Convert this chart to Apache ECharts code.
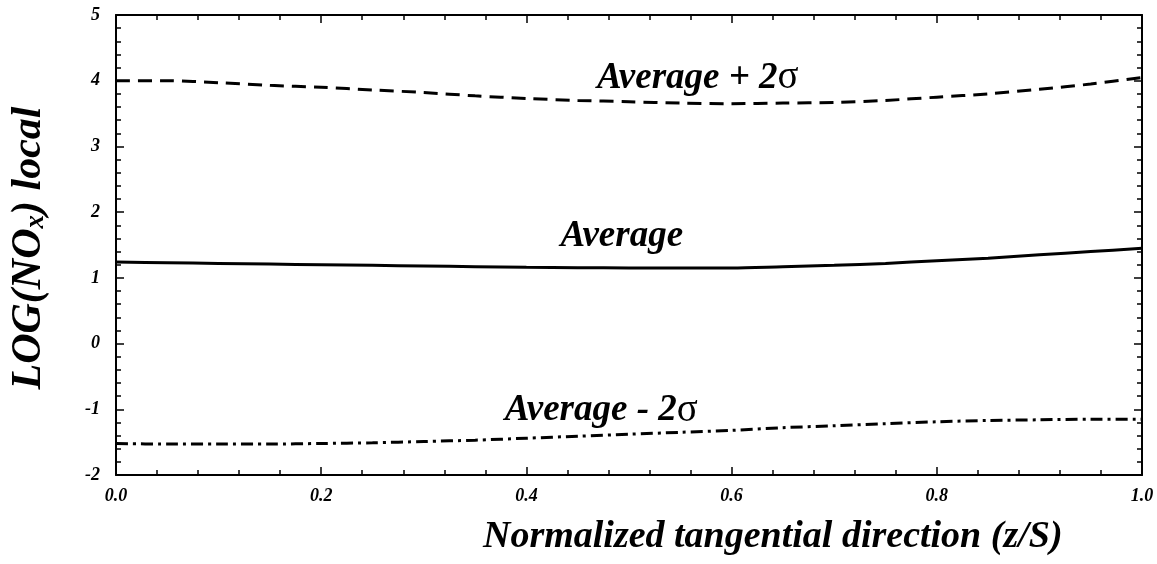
<!DOCTYPE html>
<html>
<head>
<meta charset="utf-8">
<script src="https://cdn.jsdelivr.net/npm/echarts@6/dist/echarts.min.js"></script>
<style>html,body{margin:0;padding:0;background:#fff;}#c{width:1157px;height:564px;}</style>
</head>
<body>
<div id="c"></div>
<script>
// Data
var xs = [0, 0.05, 0.1, 0.15, 0.2, 0.25, 0.3, 0.35, 0.4, 0.45, 0.5, 0.55, 0.6, 0.65, 0.7, 0.75, 0.8, 0.85, 0.9, 0.95, 1.0];
var avgPlus = [4.00, 4.00, 3.97, 3.93, 3.90, 3.86, 3.82, 3.77, 3.73, 3.70, 3.68, 3.66, 3.65, 3.66, 3.67, 3.70, 3.75, 3.80, 3.87, 3.95, 4.05];
var avg = [1.24, 1.23, 1.22, 1.21, 1.20, 1.19, 1.18, 1.17, 1.16, 1.155, 1.15, 1.15, 1.15, 1.17, 1.19, 1.22, 1.26, 1.30, 1.35, 1.40, 1.45];
var avgMinus = [-1.52, -1.53, -1.53, -1.53, -1.52, -1.51, -1.49, -1.47, -1.44, -1.41, -1.38, -1.35, -1.32, -1.28, -1.25, -1.22, -1.19, -1.17, -1.16, -1.15, -1.15];
var annoText = ['Average + 2{s|σ}', 'Average', 'Average - 2{s|σ}'];
var annoX = [0.567, 0.493, 0.473];
var annoY = [4.04, 1.63, -1.02];
var xTitle = 'Normalized tangential direction (z/S)';
var yTitle = 'LOG(NO{sub|x}) local';

function pairs(a, b) { return a.map(function (v, i) { return [v, b[i]]; }); }

var FONT = '"Liberation Serif", "Times New Roman", serif';
var chart = echarts.init(document.getElementById('c'), null, {renderer: 'canvas'});

var axisBase = {
  type: 'value',
  axisLine: {show: true, onZero: false, lineStyle: {color: '#000', width: 2}},
  splitLine: {show: false},
  axisTick: {show: true, inside: true, length: 8, lineStyle: {color: '#000', width: 1.5}},
  minorTick: {show: true, splitNumber: 5, length: 5, lineStyle: {color: '#000', width: 1.5}}
};

chart.setOption({
  animation: false,
  backgroundColor: '#fff',
  grid: {left: 116, top: 15, right: 15, bottom: 89, containLabel: false},
  xAxis: [
    Object.assign({}, axisBase, {
      position: 'bottom', min: 0, max: 1, interval: 0.2,
      axisLabel: {show: true, margin: 12, color: '#000', fontFamily: FONT, fontWeight: 'bold', fontStyle: 'italic', fontSize: 18,
        formatter: function (v) { return v.toFixed(1); }}
    }),
    Object.assign({}, axisBase, {
      position: 'top', min: 0, max: 1, interval: 0.2, axisLabel: {show: false}
    })
  ],
  yAxis: [
    Object.assign({}, axisBase, {
      position: 'left', min: -2, max: 5, interval: 1,
      axisLabel: {show: true, margin: 16, color: '#000', fontFamily: FONT, fontWeight: 'bold', fontStyle: 'italic', fontSize: 18}
    }),
    Object.assign({}, axisBase, {
      position: 'right', min: -2, max: 5, interval: 1, axisLabel: {show: false}
    })
  ],
  graphic: [
    {
      type: 'text', left: 483, top: 518,
      style: {text: xTitle, fill: '#000', font: 'italic bold 38px ' + FONT}
    },
    {
      type: 'text', x: 29, y: 248, rotation: Math.PI / 2,
      style: {
        text: yTitle, fill: '#000', align: 'center', verticalAlign: 'middle',
        fontFamily: FONT, fontWeight: 'bold', fontStyle: 'italic', fontSize: 42,
        rich: {
          sub: {fontFamily: FONT, fontWeight: 'bold', fontStyle: 'italic', fontSize: 27, lineHeight: 24, verticalAlign: 'bottom', fill: '#000'}
        }
      }
    }
  ],
  series: [
    {
      type: 'line', data: pairs(xs, avgPlus), smooth: 0.3, symbol: 'none',
      lineStyle: {color: '#000', width: 3, type: [14, 8]}
    },
    {
      type: 'line', data: pairs(xs, avg), smooth: 0.3, symbol: 'none',
      lineStyle: {color: '#000', width: 3, type: 'solid'}
    },
    {
      type: 'line', data: pairs(xs, avgMinus), smooth: 0.3, symbol: 'none',
      lineStyle: {color: '#000', width: 3, type: [12, 5, 3, 5]}
    },
    {
      type: 'scatter', symbolSize: 0, silent: true,
      itemStyle: {opacity: 1},
      data: annoX.map(function (x, i) { return {value: [x, annoY[i]], text: annoText[i]}; }),
      label: {
        show: true, position: 'inside', color: '#000', opacity: 1,
        fontFamily: FONT, fontWeight: 'bold', fontStyle: 'italic', fontSize: 37,
        formatter: function (p) { return p.data.text; },
        rich: {
          s: {fontFamily: FONT, fontWeight: 'normal', fontStyle: 'normal', fontSize: 39, color: '#000'}
        }
      }
    }
  ]
});
</script>
</body>
</html>
